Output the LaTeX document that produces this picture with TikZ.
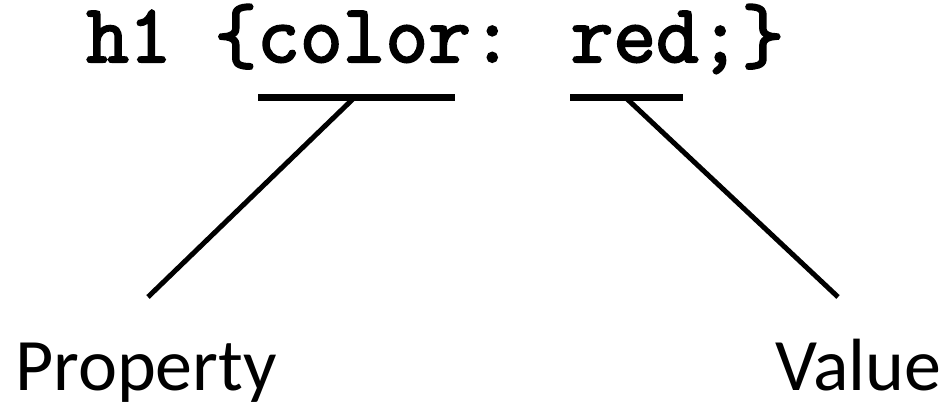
\documentclass[tikz,border=0pt]{standalone}
\usepackage{fontspec}
\setmainfont{Carlito}
\newfontfamily\codefont{Latin Modern Mono}[FakeBold=2.5]
\begin{document}
\begin{tikzpicture}[x=1pt,y=1pt,
  codetext/.style={anchor=base west, inner sep=0pt, font=\codefont\fontsize{83}{83}\selectfont},
  labeltext/.style={anchor=base west, inner sep=0pt, font=\fontsize{74}{74}\selectfont},
  underl/.style={line width=7pt},
  conn/.style={line width=5pt}]
\useasboundingbox (0,0) rectangle (947,408);
\node[codetext] (code) at (86,346) {h1 \{color: red;\}};
\node[labeltext] (prop) at (15,18) {Property};
\node[labeltext] (val) at (775,18) {Value};
\coordinate (ua) at (258,311);
\coordinate (ub) at (455,311);
\coordinate (va) at (570,311);
\coordinate (vb) at (683,311);
\coordinate (um) at (355,311);
\coordinate (vm) at (625,311);
\coordinate (pe) at (148,111);
\coordinate (ve) at (838,111);
\draw[underl] (ua) -- (ub);
\draw[underl] (va) -- (vb);
\draw[conn] (um) -- (pe);
\draw[conn] (vm) -- (ve);
\end{tikzpicture}
\end{document}
